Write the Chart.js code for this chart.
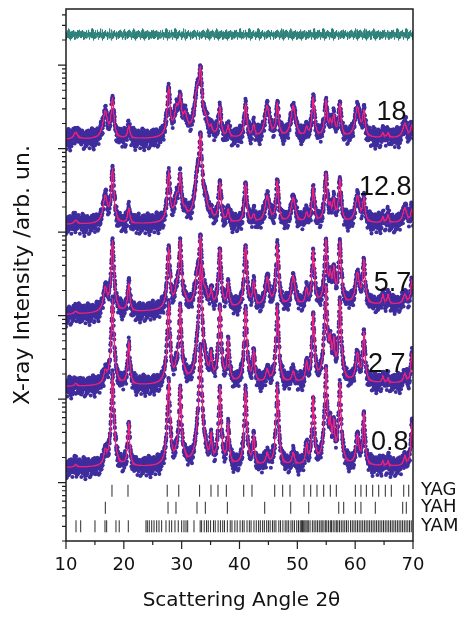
<!DOCTYPE html>
<html>
<head>
<meta charset="utf-8">
<title>XRD patterns</title>
<script src="https://cdn.jsdelivr.net/npm/chart.js@4.4.1/dist/chart.umd.min.js"></script>
<style>
  html, body { margin: 0; padding: 0; background: #fff; }
</style>
</head>
<body>
<canvas id="xrdChart" width="462" height="618"></canvas>
<script>
// ---------------------------------------------------------------------------
// Data
// ---------------------------------------------------------------------------

// Samples, bottom to top
const samples = ['0.8', '2.7', '5.7', '12.8', '18'];
// Multiplier that stacks each pattern on the log axis
const stackFactor = [0.252, 2.35, 17.1, 205, 2137];
// Background counts at 10 deg and at 70 deg
const bgStart = [60, 60, 60, 60, 60];
const bgEnd = [62, 66, 80, 62, 62];

// Reflection positions (2theta, deg)
const peakAngles = [11.7, 16.8, 18.05, 20.85, 27.75, 29.15, 29.75, 30.6, 32.7, 33.25,
    34.1, 35.1, 36.6, 38.05, 41.05, 42.45, 44.8, 46.55, 49.3, 51.6,
    52.75, 54.95, 55.7, 56.3, 57.35, 60.4, 61.5, 64.8, 65.7, 68.6, 69.8];
// Broad (hexagonal phase) reflections
const broadPeak = [1, 1, 0, 0, 0, 1, 0, 1, 1, 0,
    1, 0, 0, 0, 0, 0, 1, 0, 1, 0,
    0, 0, 0, 0, 0, 1, 0, 0, 0, 1, 0];

// Peak heights above background (counts)
const height08 = [5, 31, 764, 148, 619, 19, 485, 9, 44, 1700,
    15, 77, 500, 136, 485, 85, 24, 516, 26, 50,
    354, 886, 140, 140, 565, 85, 213, 9, 9, 19, 142];
const height27 = [5, 26, 619, 148, 565, 31, 485, 9, 60, 1700,
    19, 77, 500, 148, 485, 98, 28, 485, 24, 50,
    377, 886, 140, 140, 601, 85, 206, 13, 9, 19, 85];
const height57 = [5, 60, 402, 77, 321, 44, 377, 15, 98, 440,
    31, 44, 300, 70, 331, 77, 93, 342, 98, 44,
    272, 389, 98, 131, 377, 111, 192, 24, 24, 24, 77];
const height128 = [7, 70, 221, 33, 199, 60, 159, 19, 150, 640,
    44, 15, 126, 26, 126, 15, 70, 136, 63, 19,
    102, 178, 31, 53, 148, 70, 60, 11, 15, 33, 28];
const height18 = [13, 70, 126, 26, 192, 77, 110, 50, 170, 330,
    31, 15, 85, 24, 98, 26, 89, 98, 89, 19,
    126, 111, 31, 50, 98, 85, 66, 9, 9, 31, 26];
const peakHeights = [height08, height27, height57, height128, height18];

// Peak widths (FWHM, deg) for each sample
const fwhmSharp = [0.32, 0.34, 0.38, 0.4, 0.42];
const fwhmBroad = [0.5, 0.55, 0.65, 0.75, 0.8];

// Weighted residual (obs - calc) / sigma
const residual = [0.3, -1.2, 0.8, -0.4, 1.5, -0.9, 0.1, 2.1, -1.6, 0.5,
    -0.2, 1.1, -2.3, 0.7, -0.6, 0.0, 1.8, -1.0, 0.4, -0.3,
    1.3, -1.9, 0.9, -0.7, 0.2, 2.6, -1.4, 0.6, -0.1, -0.8,
    1.0, -2.0, 0.3, 1.6, -0.5, -1.1, 0.8, 0.1, -2.7, 1.2,
    -0.3, 0.5, -1.5, 2.0, -0.6, 0.2, -0.9, 1.4, -0.2, 0.7,
    -1.7, 0.4, 1.9, -1.3, 0.0, -0.4, 1.1, -2.2, 0.6, 0.9,
    -0.8, 1.7, -1.0, 0.3, -0.5, 2.3, -1.2, 0.1, -0.7, 1.0,
    -1.8, 0.5, 0.8, -0.1, -2.4, 1.3, -0.3, 0.6, -1.4, 1.5,
    -0.6, 0.2, -1.1, 2.2, -0.9, 0.4, -0.2, 1.2, -1.6, 0.7,
    -0.4, 0.9, -2.1, 1.6, -0.7, 0.0, 1.0, -1.3, 0.3, 2.8, -0.8];
const diffLevel = 2.32e6;

// Reference reflection markers
const yagTicks = [17.95, 20.72, 27.5, 29.5, 33.1, 35.07, 36.28, 37.72, 40.73, 42.16,
    46.09, 47.47, 48.73, 51.15, 52.31, 53.4, 54.56, 55.7, 56.74, 60.03,
    61.0, 61.93, 63.03, 64.07, 65.21, 66.25, 68.4, 69.26];
const yahTicks = [16.8, 27.64, 29.02, 32.65, 34.09, 37.9, 44.36, 48.86, 51.97, 57.16,
    58.02, 60.03, 61.0, 63.48, 68.22, 68.84];
const yamTicks = [11.73, 12.54, 15.01, 16.74, 17.03, 18.64, 19.2, 20.77,
    23.83, 24.06, 24.4, 24.82, 25.22, 25.68, 26.08, 26.54, 27.29, 27.86, 28.27, 28.84,
    29.41, 30.0, 30.4, 30.75, 31.04, 32.13, 33.2, 33.45, 33.9, 34.3, 34.6, 35.0, 35.5,
    35.8, 36.3, 36.7, 37.1, 37.4, 37.9, 38.4, 38.7, 39.2, 39.6, 40.1, 40.5, 40.8, 41.3,
    41.7, 42.0, 42.5, 42.9, 43.3, 43.6, 44.0, 44.3, 44.7, 45.0, 45.3, 45.7, 46.0, 46.3,
    46.8, 47.1, 47.5, 47.9, 48.2, 48.5, 48.9, 49.2, 49.5, 49.9, 50.2, 50.5, 50.7, 50.9,
    51.1, 51.3, 51.5, 51.7, 51.9, 52.2, 52.6, 52.9, 53.2, 53.5, 53.8, 54.1, 54.3, 54.6,
    54.9, 55.1, 55.4, 55.7, 55.9, 56.2, 56.5, 56.8, 57.0, 57.3, 57.6, 57.9, 58.2, 58.5,
    58.8, 59.2, 59.5, 59.8, 60.1, 60.4, 60.7, 61.0, 61.3, 61.6, 61.9, 62.2, 62.5, 62.8,
    63.1, 63.4, 63.7, 64.0, 64.3, 64.6, 64.9, 65.2, 65.5, 65.8, 66.1, 66.4, 66.7, 67.0,
    67.3, 67.6, 67.9, 68.2, 68.5, 68.8, 69.1, 69.4, 69.7];
const phaseNames = ['YAG', 'YAH', 'YAM'];
const phaseTicks = [yagTicks, yahTicks, yamTicks];
const phaseLevel = [8, 5, 3];

// Axis ticks
const xTicks = [10, 15, 20, 25, 30, 35, 40, 45, 50, 55, 60, 65, 70];
const xLabels = [10, 20, 30, 40, 50, 60, 70];
const yDecades = [1, 10, 100, 1e3, 1e4, 1e5, 1e6];

// Where each sample name sits (2theta, intensity)
const labelAngle = [66.0, 65.45, 66.45, 65.2, 66.3];
const labelLevel = [30.5, 259, 2450, 3.46e4, 2.74e5];

// ---------------------------------------------------------------------------
// Profiles
// ---------------------------------------------------------------------------
const STEP = 0.025;
const angles = [];
for (let i = 0; i <= 2400; i++) angles.push(10 + i * STEP);

function calcProfile(s) {
    const h = peakHeights[s];
    return angles.map(t => {
        let y = bgStart[s] + (bgEnd[s] - bgStart[s]) * (t - 10) / 60;
        peakAngles.forEach((p, k) => {
            const g = (broadPeak[k] ? fwhmBroad[s] : fwhmSharp[s]) / 2;
            const d = (t - p) / g;
            y += h[k] / (1 + d * d);
        });
        return y;
    });
}

// walk the residual table, starting each block of points at a new phase
function residualAt(i, s) {
    const n = residual.length;
    const block = Math.floor(i / n);
    return residual[(i * 37 + block * 29 + s * 19) % n];
}

const datasets = [];
samples.forEach((name, s) => {
    const calc = calcProfile(s);
    const f = stackFactor[s];
    datasets.push({
        label: name + ' calc',
        data: angles.map((t, i) => ({ x: t, y: calc[i] * f })),
        borderColor: '#f0207a',
        borderWidth: 1.2,
        pointRadius: 0,
        order: 1
    });
    datasets.push({
        label: name + ' obs',
        data: angles.map((t, i) => ({ x: t, y: (calc[i] + 0.85 * residualAt(i, s) * Math.sqrt(calc[i])) * f })),
        showLine: false,
        backgroundColor: '#3f2d9e',
        borderWidth: 0,
        pointRadius: 2,
        order: 3
    });
});

// Difference curve for the top pattern
datasets.push({
    label: 'difference',
    data: angles.map((t, i) => ({ x: t, y: diffLevel * Math.pow(10, residualAt(i, 4) * 0.026) })),
    borderColor: '#2b8079',
    borderWidth: 0.9,
    pointRadius: 0,
    order: 1
});

phaseNames.forEach((name, p) => {
    datasets.push({
        label: name,
        data: phaseTicks[p].map(t => ({ x: t, y: phaseLevel[p] })),
        showLine: false,
        pointStyle: 'line',
        rotation: 90,
        pointRadius: 6,
        borderColor: '#2a2a2a',
        borderWidth: 1,
        order: 2
    });
});

// ---------------------------------------------------------------------------
// Frame, ticks and text
// ---------------------------------------------------------------------------
const axisChrome = {
    id: 'axisChrome',
    afterDraw(chart) {
        const { ctx, chartArea: a, scales: { x, y } } = chart;
        ctx.save();
        ctx.strokeStyle = '#1e1e1e';
        ctx.lineWidth = 1.5;
        ctx.strokeRect(a.left, a.top, a.right - a.left, a.bottom - a.top);

        ctx.lineWidth = 1.2;
        ctx.beginPath();
        xTicks.forEach(v => {
            const px = x.getPixelForValue(v);
            const len = v % 10 === 0 ? 8 : 4;
            ctx.moveTo(px, a.bottom);
            ctx.lineTo(px, a.bottom + len);
        });
        yDecades.forEach(d => {
            for (let m = 1; m <= 9; m++) {
                const v = m * d;
                if (v < y.min || v > y.max) continue;
                const py = y.getPixelForValue(v);
                ctx.moveTo(a.left, py);
                ctx.lineTo(a.left - (m === 1 ? 8 : 4), py);
            }
        });
        ctx.stroke();

        ctx.fillStyle = '#111';
        ctx.textAlign = 'center';
        ctx.textBaseline = 'middle';
        ctx.font = '18px "DejaVu Sans"';
        xLabels.forEach(v => ctx.fillText(String(v), x.getPixelForValue(v), a.bottom + 24));

        ctx.font = '20px "DejaVu Sans"';
        ctx.fillText('Scattering Angle 2\u03b8', (a.left + a.right) / 2 + 2, a.bottom + 60);

        ctx.save();
        ctx.translate(23, (a.top + a.bottom) / 2);
        ctx.rotate(-Math.PI / 2);
        ctx.font = '22px "DejaVu Sans"';
        ctx.fillText('X-ray Intensity /arb. un.', 0, 0);
        ctx.restore();

        ctx.font = '27px "Liberation Sans"';
        samples.forEach((name, s) => {
            ctx.fillText(name, x.getPixelForValue(labelAngle[s]), y.getPixelForValue(labelLevel[s]));
        });

        ctx.textAlign = 'left';
        ctx.font = '18px "DejaVu Sans"';
        phaseNames.forEach((name, p) => {
            ctx.fillText(name, a.right + 8, y.getPixelForValue(phaseLevel[p]));
        });
        ctx.restore();
    }
};

new Chart(document.getElementById('xrdChart'), {
    type: 'line',
    data: { datasets },
    options: {
        responsive: false,
        devicePixelRatio: 1,
        animation: false,
        events: [],
        layout: { padding: { left: 66, right: 49, top: 9, bottom: 77 } },
        plugins: {
            legend: { display: false },
            tooltip: { enabled: false }
        },
        scales: {
            x: { type: 'linear', min: 10, max: 70, display: false },
            y: { type: 'logarithmic', min: 2, max: 4.7e6, display: false }
        }
    },
    plugins: [axisChrome]
});
</script>
</body>
</html>
